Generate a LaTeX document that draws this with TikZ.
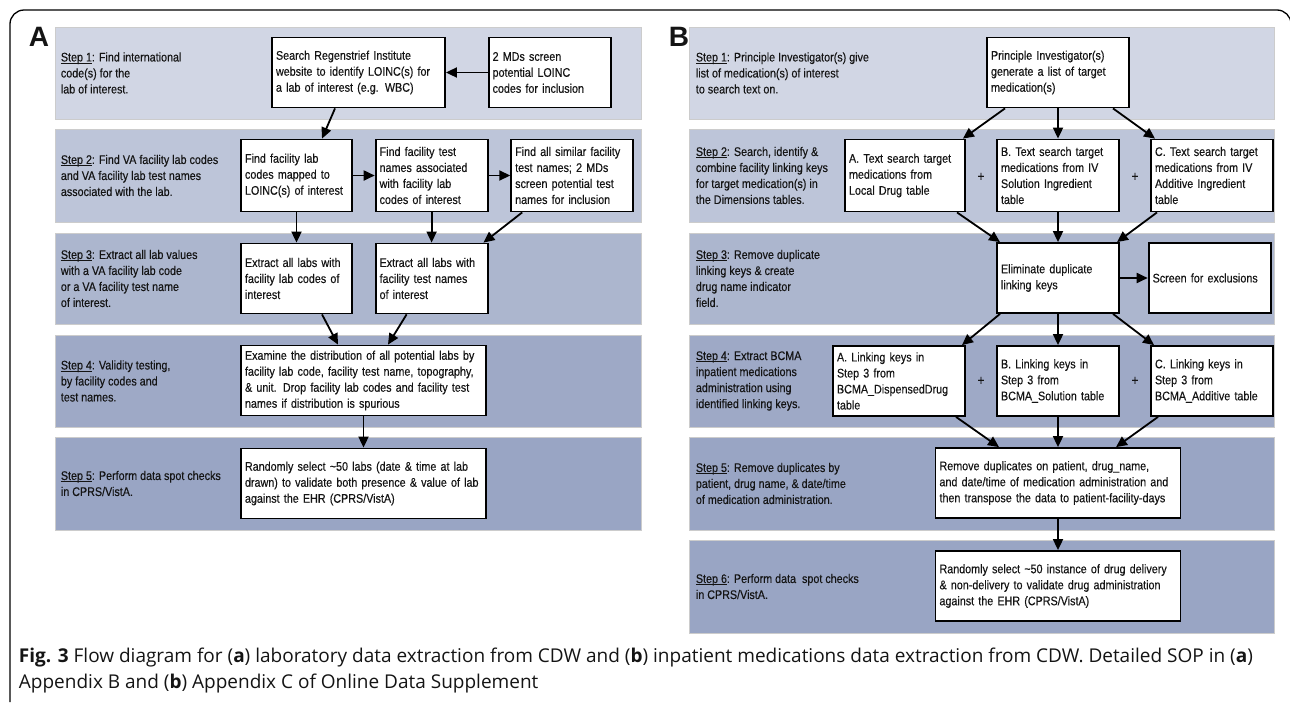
\documentclass[tikz,border=0pt]{standalone}
\usepackage{fontspec}
\setmainfont{Liberation Sans}[FakeStretch=0.86, FakeBold=0.25]
\newfontfamily\panelfont{Liberation Sans}
\newfontfamily\capfont{Open Sans}
\usetikzlibrary{arrows.meta, positioning, calc}
\definecolor{bandi}{RGB}{209,214,228}
\definecolor{bandii}{RGB}{189,197,217}
\definecolor{bandiii}{RGB}{172,182,206}
\definecolor{bandiv}{RGB}{158,169,198}
\definecolor{bandv}{RGB}{153,165,196}
\definecolor{ink}{RGB}{20,20,20}
% underlined step label
\newcommand{\ulstep}[1]{\setbox0\hbox{#1}\rlap{\rule[-1.8pt]{\wd0}{0.6pt}}\box0}
\tikzset{
    flowdiagram/.style={>={Triangle[length=11pt,width=10pt]}, line width=1.8pt, text=ink,
        font=\fontsize{12.5}{16}\selectfont},
    box/.style={draw, line width=1.8pt, fill=white, align=left, inner xsep=4pt,
        inner ysep=0pt, minimum height=70pt},
    steptext/.style={anchor=west, align=left, inner sep=0pt},
    band/.style={draw=black!20, line width=0.8pt},
    panel/.style={font=\panelfont\bfseries\fontsize{28}{28}\selectfont, inner sep=0pt},
    plus/.style={font=\fontsize{14}{14}\selectfont, inner sep=0pt},
    caption/.style={anchor=base west, inner sep=0pt, font=\capfont\fontsize{19}{24}\selectfont},
}
\begin{document}
\begin{tikzpicture}[flowdiagram, x=1pt, y=-1pt]
    \useasboundingbox (0,0) rectangle (1290,702);
    % outer frame
    \draw[line width=1.3pt, rounded corners=14pt] (10,702) -- (10,10) -- (1291,10) -- (1291,702);

    % bands, panel A
    \filldraw[band, fill=bandi]   (55,27)  rectangle (641,119);
    \filldraw[band, fill=bandii]  (55,129) rectangle (641,222);
    \filldraw[band, fill=bandiii] (55,233) rectangle (641,324);
    \filldraw[band, fill=bandiv]  (55,335) rectangle (641,427);
    \filldraw[band, fill=bandv]   (55,437) rectangle (641,530);
    % bands, panel B
    \filldraw[band, fill=bandi]   (689,27)  rectangle (1274,119);
    \filldraw[band, fill=bandii]  (689,129) rectangle (1274,222);
    \filldraw[band, fill=bandiii] (689,233) rectangle (1274,324);
    \filldraw[band, fill=bandiv]  (689,335) rectangle (1274,427);
    \filldraw[band, fill=bandv]   (689,437) rectangle (1274,530);
    \filldraw[band, fill=bandv]   (689,540) rectangle (1274,633);

    \node[panel] (pa) at (39,37)  {A};
    \node[panel] (pb) at (679,37) {B};

    % panel A: step texts
    \node[steptext] (sa1) at (60,73)    {\ulstep{Step 1}: Find international\\code(s) for the\\lab of interest.};
    \node[steptext] (sa2) at (60,175.5) {\ulstep{Step 2}: Find VA facility lab codes\\and VA facility lab test names\\associated with the lab.};
    \node[steptext] (sa3) at (60,278.5) {\ulstep{Step 3}: Extract all lab values\\with a VA facility lab code\\or a VA facility test name\\of interest.};
    \node[steptext] (sa4) at (60,381)   {\ulstep{Step 4}: Validity testing,\\by facility codes and\\test names.};
    \node[steptext] (sa5) at (60,483.5) {\ulstep{Step 5}: Perform data spot checks\\in CPRS/VistA.};

    % panel A: boxes
    \node[box, text width=165pt] (srch) at (358.5,72.5) {Search Regenstrief Institute\\website to identify LOINC(s) for\\a lab of interest (e.g. WBC)};
    \node[box, text width=114pt, right=41.8pt of srch] (mds) {2 MDs screen\\potential LOINC\\codes for inclusion};
    \node[box, text width=103pt, minimum height=72pt] (fcode) at (296.5,175.5) {Find facility lab\\codes mapped to\\LOINC(s) of interest};
    \node[box, text width=104pt, minimum height=72pt, right=21.8pt of fcode] (ftest) {Find facility test\\names associated\\with facility lab\\codes of interest};
    \node[box, text width=114pt, minimum height=72pt, right=21.8pt of ftest] (fsim) {Find all similar facility\\test names; 2 MDs\\screen potential test\\names for inclusion};
    \node[box, text width=103pt] (xcode) at (296.5,278.5) {Extract all labs with\\facility lab codes of\\interest};
    \node[box, text width=104pt, right=21.8pt of xcode] (xtest) {Extract all labs with\\facility test names\\of interest};
    \node[box, text width=237pt] (exam) at (363.5,380.5) {Examine the distribution of all potential labs by\\facility lab code, facility test name, topography,\\\& unit. Drop facility lab codes and facility test\\names if distribution is spurious};
    \node[box, text width=237pt] (spot) at (363.5,483.5) {Randomly select \textasciitilde 50 labs (date \& time at lab\\drawn) to validate both presence \& value of lab\\against the EHR (CPRS/VistA)};

    \draw[->] (mds) -- (srch);
    \draw[->] ([xshift=-23.5pt]srch.south) -- ([xshift=25.5pt]fcode.north);
    \draw[->] (fcode) -- (ftest);
    \draw[->] (ftest) -- (fsim);
    \draw[->] (fcode) -- (xcode);
    \draw[->] (ftest) -- (xtest);
    \draw[->] ([xshift=-50pt]fsim.south) -- ([xshift=-5pt]xtest.north east);
    \draw[->] ([xshift=25.5pt]xcode.south) -- ([xshift=-25.5pt]exam.north);
    \draw[->] ([xshift=-25pt]xtest.south) -- ([xshift=24.5pt]exam.north);
    \draw[->] (exam) -- (spot);

    % panel B: step texts
    \node[steptext] (sb1) at (695,73)    {\ulstep{Step 1}: Principle Investigator(s) give\\list of medication(s) of interest\\to search text on.};
    \node[steptext] (sb2) at (695,175.5) {\ulstep{Step 2}: Search, identify \&\\combine facility linking keys\\for target medication(s) in\\the Dimensions tables.};
    \node[steptext] (sb3) at (695,278.5) {\ulstep{Step 3}: Remove duplicate\\linking keys \& create\\drug name indicator\\field.};
    \node[steptext] (sb4) at (695,381)   {\ulstep{Step 4}: Extract BCMA\\inpatient medications\\administration using\\identified linking keys.};
    \node[steptext] (sb5) at (695,483.5) {\ulstep{Step 5}: Remove duplicates by\\patient, drug name, \& date/time\\of medication administration.};
    \node[steptext] (sb6) at (695,586.5) {\ulstep{Step 6}: Perform data\ \ spot checks\\in CPRS/VistA.};

    % panel B: boxes
    \node[box, text width=134pt] (pi) at (1058,72.5) {Principle Investigator(s)\\generate a list of target\\medication(s)};
    \node[box, text width=112pt, minimum height=72pt] (txta) at (905,175.5) {A. Text search target\\medications from\\Local Drug table};
    \node[box, text width=114pt, minimum height=72pt] (txtb) at (1058,175.5) {B. Text search target\\medications from IV\\Solution Ingredient\\table};
    \node[box, text width=114pt, minimum height=72pt] (txtc) at (1212,175.5) {C. Text search target\\medications from IV\\Additive Ingredient\\table};
    \node[plus] (plus1) at (981,177) {+};
    \node[plus] (plus2) at (1135,177) {+};
    \node[box, text width=114pt] (elim) at (1058,278) {Eliminate duplicate\\linking keys};
    \node[box, text width=114pt, right=27.8pt of elim] (excl) {Screen for exclusions};
    \node[box, text width=124pt] (keya) at (899,381) {A. Linking keys in\\Step 3 from\\BCMA\_DispensedDrug\\table};
    \node[box, text width=114pt] (keyb) at (1058,381) {B. Linking keys in\\Step 3 from\\BCMA\_Solution table};
    \node[box, text width=114pt] (keyc) at (1212,381) {C. Linking keys in\\Step 3 from\\BCMA\_Additive table};
    \node[plus] (plus3) at (981,381) {+};
    \node[plus] (plus4) at (1135,381) {+};
    \node[box, text width=237pt] (dedup) at (1058,483) {Remove duplicates on patient, drug\_name,\\and date/time of medication administration and\\then transpose the data to patient-facility-days};
    \node[box, text width=237pt] (check) at (1058,586) {Randomly select \textasciitilde 50 instance of drug delivery\\\& non-delivery to validate drug administration\\against the EHR (CPRS/VistA)};

    \draw[->] ([xshift=-53pt]pi.south) -- ([xshift=-3pt]txta.north east);
    \draw[->] (pi) -- (txtb);
    \draw[->] ([xshift=55pt]pi.south) -- ([xshift=-57pt]txtc.north);
    \draw[->] ([xshift=52pt]txta.south) -- ([xshift=-58pt]elim.north);
    \draw[->] (txtb) -- (elim);
    \draw[->] ([xshift=-55pt]txtc.south) -- ([xshift=59pt]elim.north);
    \draw[->] (elim) -- (excl);
    \draw[->] ([xshift=-58pt]elim.south) -- ([xshift=63pt]keya.north);
    \draw[->] (elim) -- (keyb);
    \draw[->] ([xshift=55pt]elim.south) -- ([xshift=-58pt]keyc.north);
    \draw[->] ([xshift=57pt]keya.south) -- ([xshift=-59pt]dedup.north);
    \draw[->] (keyb) -- (dedup);
    \draw[->] ([xshift=-54pt]keyc.south) -- ([xshift=58pt]dedup.north);
    \draw[->] (dedup) -- (check);

    % caption
    \node[caption] (cap1) at (18,662) {\textbf{Fig. 3} Flow diagram for (\textbf{a}) laboratory data extraction from CDW and (\textbf{b}) inpatient medications data extraction from CDW. Detailed SOP in (\textbf{a})};
    \node[caption] (cap2) at (18,688) {Appendix B and (\textbf{b}) Appendix C of Online Data Supplement};
\end{tikzpicture}
\end{document}
